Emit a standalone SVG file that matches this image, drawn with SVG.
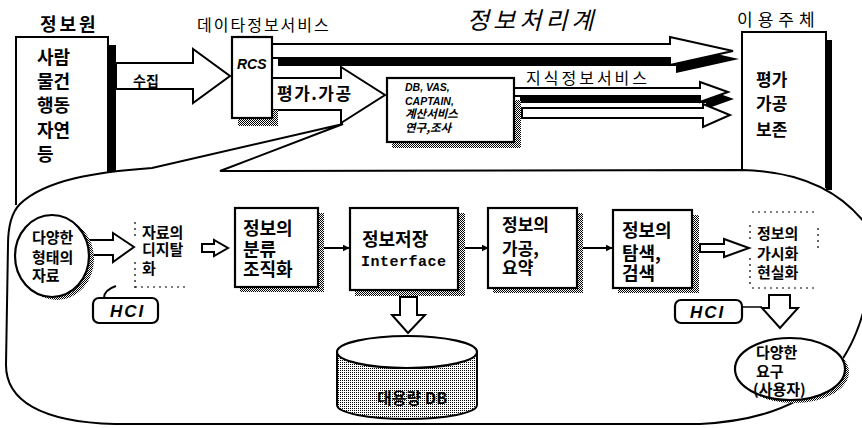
<svg xmlns="http://www.w3.org/2000/svg" width="862" height="428" viewBox="0 0 862 428">
<defs>
<pattern id="ht" width="2" height="2" patternUnits="userSpaceOnUse"><rect width="2" height="2" fill="#fff"/><rect width="1" height="1" fill="#000"/><rect x="1" y="1" width="1" height="1" fill="#000"/></pattern>
<pattern id="ht2" width="2" height="2" patternUnits="userSpaceOnUse"><rect width="2" height="2" fill="#fff"/><rect width="1" height="1" fill="#000"/></pattern>
<marker id="ah" viewBox="0 0 10 10" refX="9" refY="5" markerWidth="7" markerHeight="7" orient="auto" markerUnits="userSpaceOnUse"><path d="M0,0 L10,5 L0,10 Z" fill="#000"/></marker>
</defs>
<style>
.k{font-family:'Noto Sans CJK KR','Noto Sans',sans-serif;fill:#000}
.b{font-weight:700}
.l{font-family:'Liberation Sans',Arial,sans-serif;fill:#000}
.m{font-family:'Liberation Mono','Courier New',monospace;fill:#000}
.bx{fill:#fff;stroke:#000;stroke-width:2.2}
.ln{fill:none;stroke:#000;stroke-width:2}
.ha{fill:#fff;stroke:#000;stroke-width:2;stroke-linejoin:miter}
.sh{fill:url(#ht)}
.dt{fill:none;stroke:#000;stroke-width:1.2;stroke-dasharray:2 4}
.con{fill:none;stroke:#000;stroke-width:2}
</style>
<rect width="862" height="428" fill="#fff"/>

<g id="callout">
<path class="ln" d="M220,171 L742,170 Q830,172 870,230 L870,280 C858,360 820,418 700,424 L115,424 C40,422 6,400 6,365 L8,245 C8,225 12,212 20,204 C45,180 95,172 152,168 L343,124 Z"/>
</g>

<g id="title">
<text class="k" x="467" y="29" font-size="24" font-style="italic" letter-spacing="4">정보처리계</text>
</g>

<g id="source">
<text class="k b" x="40" y="31" font-size="18" letter-spacing="3">정보원</text>
<path class="ln" d="M16,205 L16,37 L108,37 L108,172"/>
<rect x="108" y="45" width="8" height="127" fill="#000"/>
<text class="k b" font-size="18"><tspan x="37" y="64">사람</tspan><tspan x="37" y="88">물건</tspan><tspan x="37" y="112">행동</tspan><tspan x="37" y="137">자연</tspan><tspan x="37" y="161">등</tspan></text>
</g>

<g id="user">
<text class="k" x="737" y="26" font-size="17" letter-spacing="5">이용주체</text>
<path class="ln" d="M742,170 L742,32 L826,32 L826,188"/>
<rect x="826" y="40" width="6" height="150" fill="#000"/>
<text class="k b" font-size="17"><tspan x="756" y="86">평가</tspan><tspan x="756" y="110">가공</tspan><tspan x="756" y="136">보존</tspan></text>
</g>

<g id="connectors">
<path class="ha" d="M116,63 L193,63 L193,49 L230,76 L193,103 L193,89 L116,89 Z"/>
<text class="k b" x="133" y="86" font-size="14">수집</text>
<path d="M278,52 L676,52 L676,45 L739,59 L676,73 L676,66 L278,66 Z" fill="#000"/>
<path class="ha" d="M272,44 L670,44 L670,37 L733,51 L670,65 L670,58 L272,58 Z"/>
<path class="ha" d="M272,78 L341,78 L341,67 L385,95 L341,123 L341,110 L272,110 Z"/>
<text class="k b" x="277" y="100" font-size="17" letter-spacing="1.5">평가.가공</text>
<path d="M520,95 L706,95 L706,89 L734,99 L706,109 L706,103 L520,103 Z" fill="#000"/>
<path class="ha" d="M514,88 L700,88 L700,82 L728,92 L700,102 L700,96 L514,96 Z"/>
<path class="ha" d="M522,108 L703,108 L703,104 L730,115 L703,127 L703,118 L522,118 Z"/>
<text class="k" x="526" y="84" font-size="16" letter-spacing="3">지식정보서비스</text>
<path class="ha" d="M88,240 L113,240 L113,233 L134,247 L113,262 L113,255 L88,255 Z"/>
<path class="ha" stroke-width="1.6" d="M202,244 L214,244 L214,240 L228,248 L214,256 L214,252 L202,252 Z"/>
<line class="con" x1="324" y1="248" x2="349" y2="248" marker-end="url(#ah)"/>
<line class="con" x1="465" y1="248" x2="488" y2="248" marker-end="url(#ah)"/>
<line class="con" x1="583" y1="248" x2="612" y2="248" marker-end="url(#ah)"/>
<path class="ha" d="M700,244 L724,244 L724,239 L749,248 L724,257 L724,252 L700,252 Z"/>
<path class="ha" d="M400,297 L417,297 L417,315 L425,315 L408,333 L392,315 L400,315 Z"/>
<path class="ha" d="M769,295 L790,295 L790,308 L798,308 L780,328 L762,308 L769,308 Z"/>
<line x1="742" y1="307" x2="762" y2="307" stroke="#000" stroke-width="1.5"/>
</g>

<g id="data-service">
<text class="k" x="197" y="31" font-size="16" letter-spacing="2">데이타정보서비스</text>
</g>

<g id="rcs">
<rect class="sh" x="238" y="118" width="40" height="8"/>
<rect class="sh" x="272" y="110" width="6" height="16"/>
<rect class="bx" x="232" y="37" width="40" height="81"/>
<text class="l b" x="237" y="69" font-size="14" font-style="italic">RCS</text>
</g>

<g id="services">
<rect class="sh" x="514" y="100" width="7" height="48"/>
<rect class="sh" x="392" y="142" width="129" height="6"/>
<rect class="bx" x="387" y="78" width="127" height="64"/>
<text class="l b" x="405" y="91" font-size="10.5" font-style="italic">DB, VAS,</text>
<text class="l b" x="405" y="105" font-size="10.5" font-style="italic">CAPTAIN,</text>
<text class="k b" x="405" y="118" font-size="11.5" font-style="italic">계산서비스</text>
<text class="k b" x="405" y="132" font-size="11.5" font-style="italic">연구,조사</text>
</g>

<g id="various-data">
<ellipse class="sh" cx="57" cy="259" rx="37" ry="41"/>
<ellipse class="bx" cx="52" cy="256" rx="37" ry="41"/>
<text class="k b" font-size="15"><tspan x="32" y="243">다양한</tspan><tspan x="32" y="263">형태의</tspan><tspan x="32" y="281">자료</tspan></text>
</g>

<g id="digitize">
<line class="dt" x1="135" y1="222" x2="135" y2="240"/>
<line class="dt" x1="135" y1="262" x2="135" y2="288"/>
<line class="dt" x1="135" y1="287" x2="185" y2="287" stroke-dasharray="3 10"/>
<text class="k b" font-size="15"><tspan x="142" y="238">자료의</tspan><tspan x="142" y="255">디지탈</tspan><tspan x="142" y="274">화</tspan></text>
</g>

<g id="hci-left">
<path class="ln" d="M104,298 Q104,290 116,286"/>
<rect class="bx" x="93" y="298" width="65" height="25" rx="6"/>
<text class="l b" x="110" y="317" font-size="17" font-style="italic" letter-spacing="2">HCI</text>
</g>

<g id="classify">
<rect class="sh" x="318" y="213" width="6" height="79"/>
<rect class="sh" x="240" y="287" width="84" height="5"/>
<rect class="bx" x="235" y="208" width="83" height="79"/>
<text class="k b" font-size="18"><tspan x="243" y="235">정보의</tspan><tspan x="243" y="256">분류</tspan><tspan x="243" y="276">조직화</tspan></text>
</g>

<g id="storage">
<rect class="sh" x="458" y="213" width="7" height="83"/>
<rect class="sh" x="355" y="290" width="110" height="6"/>
<rect class="bx" x="350" y="208" width="108" height="82"/>
<text class="k b" x="362" y="246" font-size="18">정보저장</text>
<text class="m b" x="361" y="266" font-size="15" textLength="85" lengthAdjust="spacing">Interface</text>
</g>

<g id="process">
<rect class="sh" x="577" y="213" width="6" height="80"/>
<rect class="sh" x="493" y="288" width="90" height="5"/>
<rect class="bx" x="488" y="208" width="89" height="80"/>
<text class="k b" font-size="17"><tspan x="502" y="231">정보의</tspan><tspan x="502" y="255">가공,</tspan><tspan x="502" y="274">요약</tspan></text>
</g>

<g id="search">
<rect class="sh" x="692" y="215" width="7" height="78"/>
<rect class="sh" x="618" y="288" width="81" height="5"/>
<rect class="bx" x="613" y="210" width="79" height="78"/>
<text class="k b" font-size="18"><tspan x="622" y="237">정보의</tspan><tspan x="622" y="260">탐색,</tspan><tspan x="622" y="280">검색</tspan></text>
</g>

<g id="visualize">
<line class="dt" x1="752" y1="212" x2="818" y2="212" stroke-dasharray="3 10"/>
<line class="dt" x1="750" y1="225" x2="750" y2="240"/>
<line class="dt" x1="750" y1="258" x2="750" y2="285"/>
<line class="dt" x1="818" y1="228" x2="818" y2="250"/>
<line class="dt" x1="752" y1="288" x2="818" y2="288" stroke-dasharray="3 10"/>
<text class="k b" font-size="15"><tspan x="757" y="239">정보의</tspan><tspan x="757" y="259">가시화</tspan><tspan x="757" y="278">현실화</tspan></text>
</g>

<g id="hci-right">
<rect class="bx" x="675" y="300" width="67" height="23" rx="6"/>
<text class="l b" x="690" y="318" font-size="17" font-style="italic" letter-spacing="2">HCI</text>
</g>

<g id="db">
<path d="M337,352 L337,405 A70,14 0 0 0 477,405 L477,352 Z" fill="url(#ht2)" stroke="#000" stroke-width="2"/>
<ellipse class="bx" cx="407" cy="352" rx="70" ry="16"/>
<text class="k b" x="377" y="404" font-size="16">대용량 DB</text>
</g>

<g id="user-needs">
<ellipse class="sh" cx="794" cy="372" rx="55" ry="31"/>
<ellipse class="bx" cx="790" cy="369" rx="55" ry="31"/>
<text class="k b" font-size="15"><tspan x="756" y="358">다양한</tspan><tspan x="756" y="377">요구</tspan><tspan x="753" y="395">(사용자)</tspan></text>
</g>
</svg>
